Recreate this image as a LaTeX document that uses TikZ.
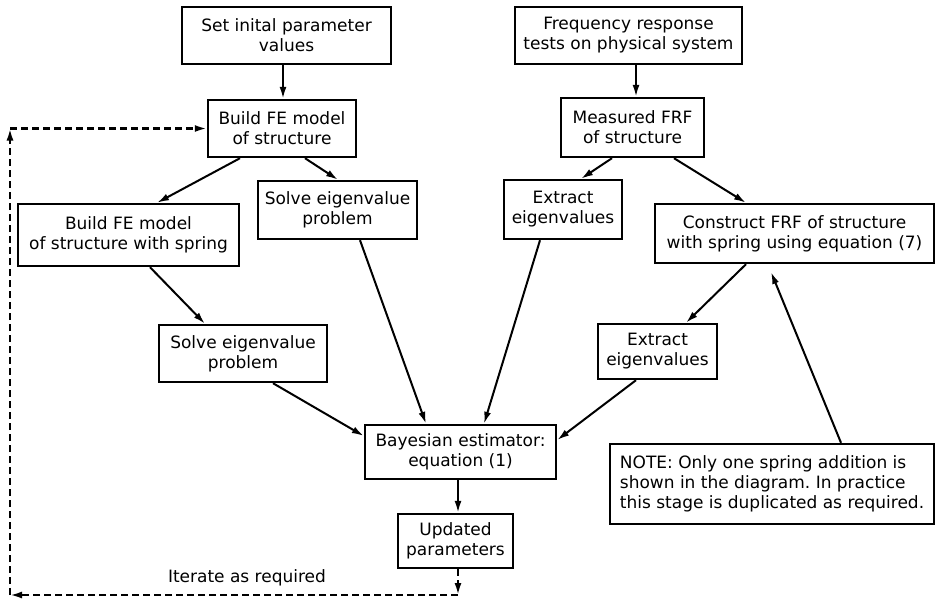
\documentclass[tikz,border=0pt]{standalone}
\usepackage{fontspec}
\setmainfont{DejaVu Sans}
\usetikzlibrary{arrows.meta,calc}
\begin{document}
\frenchspacing
\begin{tikzpicture}[x=1pt,y=-1pt,
  box/.style={draw,line width=2.4pt,inner sep=0pt,align=center,font=\fontsize{17}{20}\selectfont},
  arr/.style={line width=2pt,-{Latex[length=12pt,width=7pt]}},
  dsh/.style={line width=2.2pt,dash pattern=on 7pt off 4pt,-{Latex[length=12pt,width=7pt]}},
  lbl/.style={font=\fontsize{17}{20}\selectfont}]
\fill[white] (0,0) rectangle (936,600);
\useasboundingbox (0,0) rectangle (936,600);
% boxes
\node[box,minimum width=209pt,minimum height=57pt] (b1) at (286.5,35.5) {Set inital parameter\\values};
\node[box,minimum width=148pt,minimum height=57pt] (b2) at (282,128.5) {Build FE model\\of structure};
\node[box,minimum width=221pt,minimum height=62pt] (b3) at (128.5,235) {Build FE model\\of structure with spring};
\node[box,minimum width=159pt,minimum height=58pt] (b4) at (337.5,210) {Solve eigenvalue\\problem};
\node[box,minimum width=227pt,minimum height=57pt] (b5) at (628.5,35.5) {Frequency response\\tests on physical system};
\node[box,minimum width=143pt,minimum height=59pt] (b6) at (632.5,127.5) {Measured FRF\\of structure};
\node[box,minimum width=118pt,minimum height=59pt] (b7) at (563,209.5) {Extract\\eigenvalues};
\node[box,minimum width=279pt,minimum height=59pt] (b8) at (794.5,233.5) {Construct FRF of structure\\with spring using equation (7)};
\node[box,minimum width=168pt,minimum height=57pt] (b9) at (243,353.5) {Solve eigenvalue\\problem};
\node[box,minimum width=191pt,minimum height=54pt] (b10) at (460.5,452) {Bayesian estimator:\\equation (1)};
\node[box,minimum width=115pt,minimum height=54pt] (b11) at (455.5,541) {Updated\\parameters};
\node[box,minimum width=119pt,minimum height=55pt] (b12) at (657.5,351.5) {Extract\\eigenvalues};
\node[box,align=left,minimum width=324pt,minimum height=80pt] (b13) at (772,484) {NOTE: Only one spring addition is\\shown in the diagram. In practice\\this stage is duplicated as required.};
% solid connectors
\draw[arr] ([xshift=-3.5pt]b1.south) -- ([xshift=1pt]b2.north);
\draw[arr] ([xshift=-42pt]b2.south) -- ([xshift=28.5pt]b3.north);
\draw[arr] ([xshift=23pt]b2.south) -- ([xshift=0.5pt]b4.north);
\draw[arr] ([xshift=7.5pt]b5.south) -- ([xshift=3.5pt]b6.north);
\draw[arr] ([xshift=-20.5pt]b6.south) -- ([xshift=18pt]b7.north);
\draw[arr] ([xshift=41.5pt]b6.south) -- ([xshift=-48.5pt]b8.north);
\draw[arr] ([xshift=21.5pt]b3.south) -- ([xshift=-38pt]b9.north);
\draw[arr] ([xshift=22.5pt]b4.south) -- ([xshift=-34.5pt]b10.north);
\draw[arr] ([xshift=30pt]b9.south) -- ([yshift=16pt]b10.west);
\draw[arr] ([xshift=-23pt]b7.south) -- ([xshift=23.5pt]b10.north);
\draw[arr] ([xshift=-48.5pt]b8.south) -- ([xshift=28.5pt]b12.north);
\draw[arr] ([xshift=-21.5pt]b12.south) -- ([yshift=12pt]b10.east);
\draw[arr] ([xshift=-2.5pt]b10.south) -- ([xshift=2.5pt]b11.north);
\coordinate (tip) at (771,272);
\draw[arr] ([xshift=69pt]b13.north) -- (tip);
% dashed iteration loop
\coordinate (c1) at (458,595);
\coordinate (c2) at (10,595);
\coordinate (c3) at (10,128.5);
\draw[dsh] ([xshift=2.5pt]b11.south) -- (c1);
\draw[dsh] (c1) -- (c2);
\draw[dsh] (c2) -- (c3);
\draw[dsh] (c3) -- (b2.west);
\node[lbl] (it) at (247,578) {Iterate as required};
\end{tikzpicture}
\end{document}
